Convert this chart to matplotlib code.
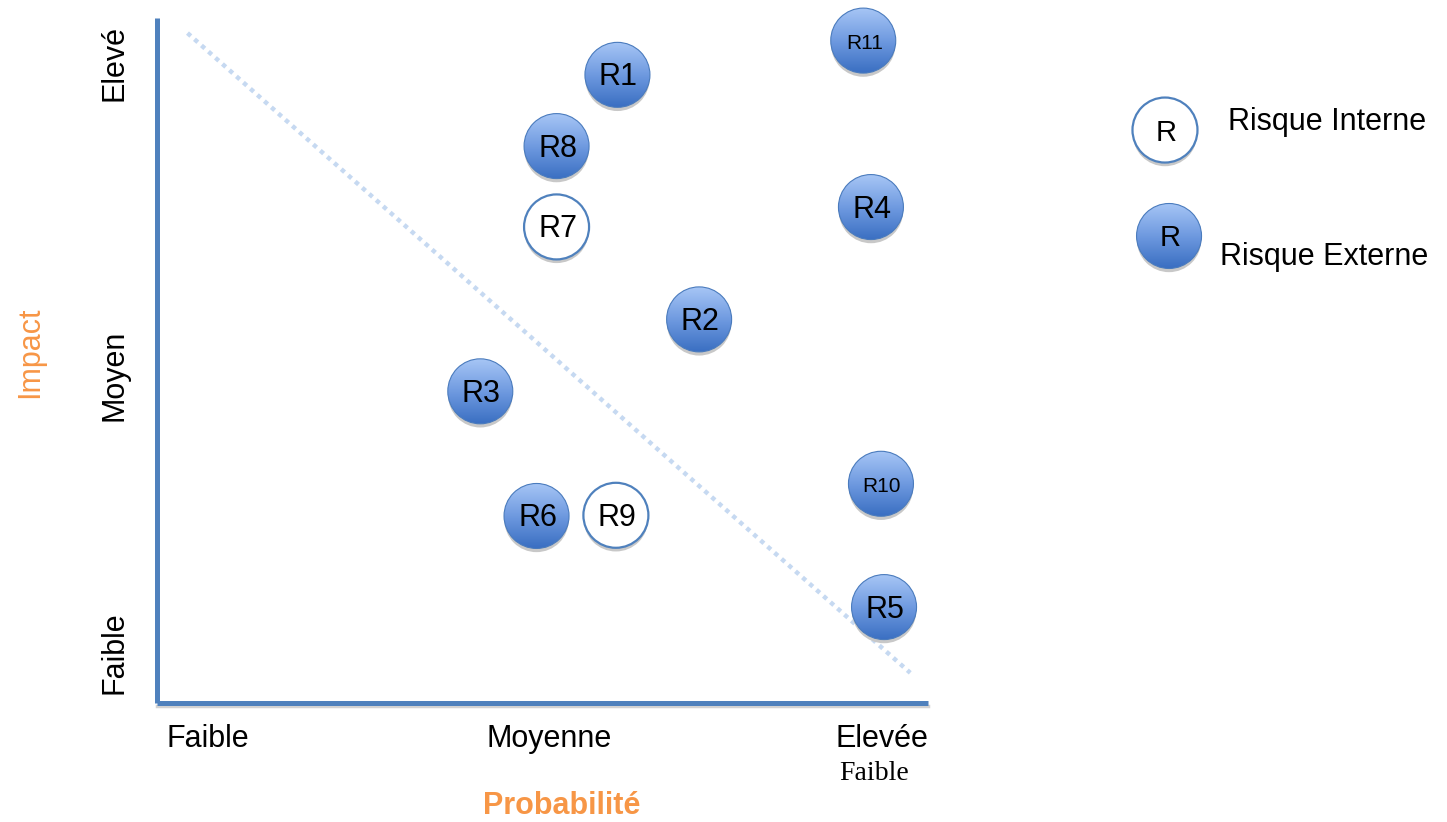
import numpy as np
import matplotlib.pyplot as plt
from matplotlib.patches import Circle
from matplotlib.lines import Line2D
from matplotlib.colors import LinearSegmentedColormap
from matplotlib.transforms import ScaledTranslation

plt.rcParams['font.family'] = ['Liberation Sans', 'DejaVu Sans']

# risk positions on the probability / impact grid (0 - 10)
risks = ["R1", "R2", "R3", "R4", "R5", "R6", "R7", "R8", "R9", "R10", "R11"]
probability = [5.97, 7.03, 4.19, 9.26, 9.43, 4.92, 5.18, 5.18, 5.95, 9.39, 9.16]
impact = [9.17, 5.60, 4.55, 7.24, 1.40, 2.73, 6.95, 8.13, 2.74, 3.20, 9.67]
internal_risks = ["R7", "R9"]

prob_levels = ["Faible", "Moyenne", "Elevée"]
prob_ticks = [0.66, 5.08, 9.40]
impact_levels = ["Faible", "Moyen", "Elevé"]
impact_ticks = [0.74, 4.79, 9.34]

# acceptance threshold drawn as a dotted diagonal
threshold_x = [0.39, 9.77]
threshold_y = [9.78, 0.44]

AXIS_BLUE = "#4f81bd"
ORANGE = "#f79646"
RADIUS = 0.325  # bubble radius in inches
bubble_cmap = LinearSegmentedColormap.from_list("bubble", ["#3a6fc2", "#6f9ae0", "#a6c5f5"])


def bubble(layer, x, y, label, external, base, size=22):
    tr = layer.figure.dpi_scale_trans + ScaledTranslation(x, y, base)
    shadow = Circle((0, -0.04), RADIUS * 0.99, transform=tr, fc="#c8c8c8",
                    ec="none", zorder=3)
    layer.add_patch(shadow)
    face = Circle((0, 0), RADIUS, transform=tr,
                  fc="none" if external else "white",
                  ec="#4a7bbd" if external else AXIS_BLUE,
                  lw=0.8 if external else 1.6, zorder=5)
    layer.add_patch(face)
    if external:
        grad = np.linspace(0, 1, 128)[:, None]
        im = layer.imshow(grad, cmap=bubble_cmap, origin="lower", aspect="auto",
                          extent=(-RADIUS, RADIUS, -RADIUS, RADIUS), transform=tr,
                          interpolation="bilinear", zorder=4)
        im.set_clip_path(face)
    layer.text(0.01, -0.025, label, transform=tr, ha="center", va="center",
               fontsize=size, zorder=6)


fig = plt.figure(figsize=(14.47, 8.22), dpi=100)
ax = fig.add_axes([0.1088, 0.1448, 0.5325, 0.8333])
ax.set_xlim(0, 10)
ax.set_ylim(0, 10)

# transparent layer over the whole figure so bubbles are not cut at the axes edge
layer = fig.add_axes([0, 0, 1, 1], zorder=3)
layer.set_xlim(0, 1)
layer.set_ylim(0, 1)
layer.set_autoscale_on(False)
layer.axis("off")

for side in ["top", "right"]:
    ax.spines[side].set_visible(False)
for side in ["left", "bottom"]:
    ax.spines[side].set_color(AXIS_BLUE)
    ax.spines[side].set_linewidth(3.6)
    ax.spines[side].set_capstyle("butt")

# soft grey shadow under the horizontal axis
shadow_tr = ax.transAxes + ScaledTranslation(0, -0.035, fig.dpi_scale_trans)
ax.add_line(Line2D([0, 1], [0, 0], transform=shadow_tr, color="#d2d2d2",
                   lw=2.5, zorder=1, clip_on=False))

ax.plot(threshold_x, threshold_y, color="#c6d9f1", lw=3.2,
        linestyle=(0, (1, 1.1)), dash_capstyle="butt", zorder=2)

for name, px, iy in zip(risks, probability, impact):
    bubble(layer, px, iy, name, name not in internal_risks, ax.transData,
           size=15 if len(name) > 2 else 22)

ax.set_xticks(prob_ticks, prob_levels, fontsize=22)
ax.set_yticks(impact_ticks, impact_levels, fontsize=22, rotation=90, va="center")
ax.tick_params(axis="x", length=0, pad=15)
ax.tick_params(axis="y", length=0, pad=20)

fig.text(0.3884, 0.0195, "Probabilité", color=ORANGE, fontsize=22,
         fontweight="bold", ha="center", va="center")
fig.text(0.0207, 0.5718, "Impact", color=ORANGE, fontsize=22,
         rotation=90, ha="center", va="center")
fig.text(0.604, 0.0584, "Faible", family="Liberation Serif", fontsize=20,
         ha="center", va="center")

# legend
bubble(layer, 0.8051, 0.8418, "R", False, fig.transFigure, size=21)
bubble(layer, 0.8079, 0.7129, "R", True, fig.transFigure, size=21)
fig.text(0.8487, 0.8516, "Risque Interne", fontsize=22, va="center")
fig.text(0.8431, 0.6873, "Risque Externe", fontsize=22, va="center")

fig.savefig("out.png", dpi=100)
